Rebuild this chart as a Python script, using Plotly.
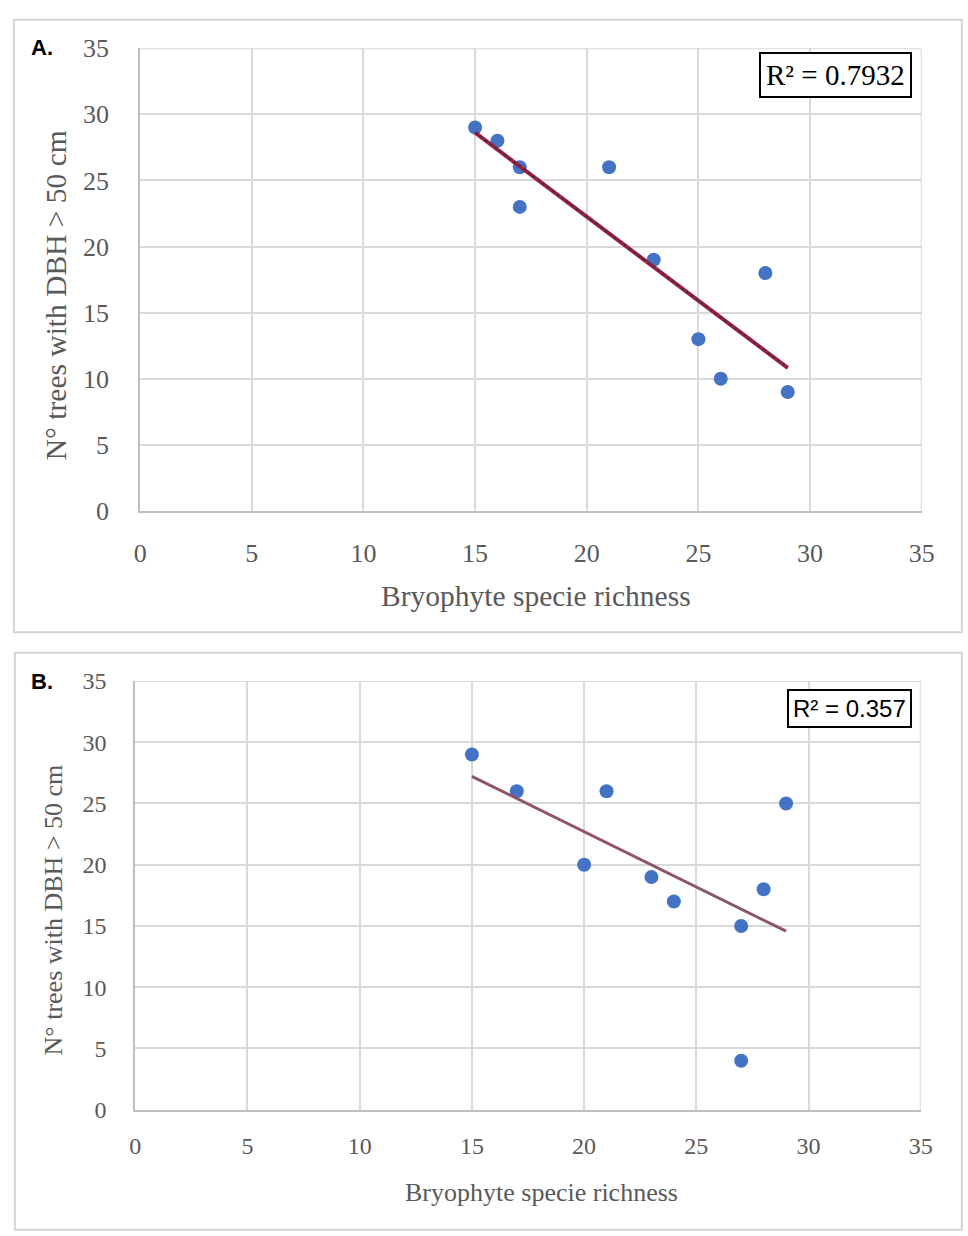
import numpy as np
import plotly.graph_objects as go

# Panel A: bryophyte richness vs. number of large trees
richness_a = [15, 16, 17, 17, 21, 23, 25, 26, 28, 29]
trees_a = [29, 28, 26, 23, 26, 19, 13, 10, 18, 9]
r2_a = "R² = 0.7932"

# Panel B
richness_b = [15, 17, 20, 21, 23, 24, 27, 27, 28, 29]
trees_b = [29, 26, 20, 26, 19, 17, 15, 4, 18, 25]
r2_b = "R² = 0.357"

tick_vals = [0, 5, 10, 15, 20, 25, 30, 35]
x_title = "Bryophyte specie richness"
y_title = "N° trees with DBH > 50 cm"

W, H = 968, 1236
SERIF = "Liberation Serif"
TXT = "#595959"
GRID = "#d9d9d9"
AXIS = "#bfbfbf"
DOT = "#4472C4"


def px(x):
    return x / W


def py(y):
    return (H - y) / H


def fit_line(x, y):
    slope, intercept = np.polyfit(x, y, 1)
    xs = np.array([min(x), max(x)])
    return xs, slope * xs + intercept


fig = go.Figure()

# scatter + trendline, panel A
fig.add_trace(go.Scatter(x=richness_a, y=trees_a, mode="markers",
                         marker=dict(color=DOT, size=14), xaxis="x", yaxis="y",
                         showlegend=False, cliponaxis=False))
lx, ly = fit_line(richness_a, trees_a)
fig.add_trace(go.Scatter(x=lx, y=ly, mode="lines", line=dict(color="#a31d42", width=4),
                         xaxis="x", yaxis="y", showlegend=False))
fig.add_trace(go.Scatter(x=lx, y=ly, mode="lines",
                         line=dict(color="#3b3350", width=2, dash="dot"),
                         xaxis="x", yaxis="y", showlegend=False))

# scatter + trendline, panel B
fig.add_trace(go.Scatter(x=richness_b, y=trees_b, mode="markers",
                         marker=dict(color=DOT, size=14), xaxis="x2", yaxis="y2",
                         showlegend=False, cliponaxis=False))
lx, ly = fit_line(richness_b, trees_b)
fig.add_trace(go.Scatter(x=lx, y=ly, mode="lines", line=dict(color="#8e5566", width=3),
                         xaxis="x2", yaxis="y2", showlegend=False))


def axis(domain, anchor, size, standoff):
    return dict(domain=domain, anchor=anchor, range=[0, 35], tickvals=tick_vals,
                showgrid=True, gridcolor=GRID, gridwidth=2, zeroline=False,
                showline=True, linecolor=AXIS, linewidth=2, ticks="",
                ticklabelstandoff=standoff,
                tickfont=dict(family=SERIF, size=size, color=TXT), fixedrange=True)


fig.update_layout(
    width=W, height=H, margin=dict(l=0, r=0, t=0, b=0),
    paper_bgcolor="white", plot_bgcolor="white",
    xaxis=axis([px(136), px(934)], "y", 26, 18),
    yaxis=axis([py(509), py(35)], "x", 26, 24),
    xaxis2=axis([px(131), px(933)], "y2", 24, 14),
    yaxis2=axis([py(1122), py(683)], "x2", 24, 22),
)

# top and right grid edges at 35
for xr, yr in (("x", "y"), ("x2", "y2")):
    fig.add_shape(type="line", xref=xr, yref=yr, x0=0, x1=35, y0=35, y1=35,
                  line=dict(color=GRID, width=2), layer="below")
    fig.add_shape(type="line", xref=xr, yref=yr, x0=35, x1=35, y0=0, y1=35,
                  line=dict(color=GRID, width=2), layer="below")

# panel frames
fig.add_shape(type="rect", xref="paper", yref="paper", x0=px(7), x1=px(975),
              y0=py(633), y1=py(6), line=dict(color="#d4d4d4", width=2), layer="below")
fig.add_shape(type="rect", xref="paper", yref="paper", x0=px(8), x1=px(975),
              y0=py(1245), y1=py(654), line=dict(color="#d4d4d4", width=2), layer="below")

ann = []
# panel letters
ann.append(dict(text="<b>A.</b>", x=px(22), y=py(34), xanchor="left", yanchor="middle",
                font=dict(family="Liberation Sans", size=22, color="black")))
ann.append(dict(text="<b>B.</b>", x=px(22), y=py(684), xanchor="left", yanchor="middle",
                font=dict(family="Liberation Sans", size=22, color="black")))
# axis titles
ann.append(dict(text=y_title, x=px(50), y=py(288), textangle=-90, xanchor="center",
                yanchor="middle", font=dict(family=SERIF, size=29.5, color=TXT)))
ann.append(dict(text=y_title, x=px(47), y=py(918), textangle=-90, xanchor="center",
                yanchor="middle", font=dict(family=SERIF, size=26, color=TXT)))
ann.append(dict(text=x_title, x=px(540), y=py(596), xanchor="center", yanchor="middle",
                font=dict(family=SERIF, size=29.5, color=TXT)))
ann.append(dict(text=x_title, x=px(546), y=py(1207), xanchor="center", yanchor="middle",
                font=dict(family=SERIF, size=26, color=TXT)))
# R² boxes
ann.append(dict(text=r2_a, x=px(846), y=py(62), xanchor="center", yanchor="middle",
                font=dict(family=SERIF, size=29, color="black"), bordercolor="black",
                borderwidth=2, borderpad=5, bgcolor="white"))
ann.append(dict(text=r2_b, x=px(860), y=py(711), xanchor="center", yanchor="middle",
                font=dict(family="Liberation Sans", size=24, color="black"),
                bordercolor="black", borderwidth=2, borderpad=4, bgcolor="white"))
for a in ann:
    a.update(xref="paper", yref="paper", showarrow=False)
fig.update_layout(annotations=ann)

fig.write_html("out.html")
